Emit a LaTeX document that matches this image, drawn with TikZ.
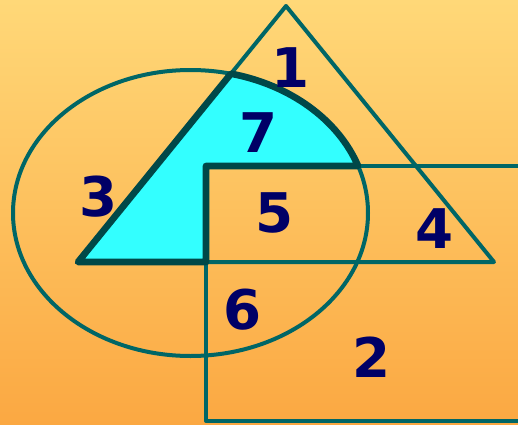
\documentclass[tikz,border=0pt]{standalone}
\usepackage{fontspec}
\newfontfamily\digitfont{DejaVu Sans}
\definecolor{bgtop}{HTML}{FFD878}
\definecolor{bgbottom}{HTML}{FBA842}
\definecolor{setline}{HTML}{006666}
\definecolor{hatchline}{HTML}{004848}
\definecolor{regionfill}{HTML}{33FFFF}
\definecolor{digitblue}{HTML}{000066}

\begin{document}
\begin{tikzpicture}[x=0.75pt,y=-0.75pt]
\tikzset{
  setedge/.style={draw=setline,line width=3pt,line join=round},
  shaded7/.style={fill=regionfill,draw=hatchline,line width=5pt,line join=round,line cap=round},
  regionlabel/.style={text=digitblue,font=\digitfont\bfseries\fontsize{41}{41}\selectfont,inner sep=0pt}
}
\useasboundingbox (0,0) rectangle (518,425);
\shade[top color=bgtop,bottom color=bgbottom] (0,0) rectangle (518,425);
\begin{scope}
\clip (0,0) rectangle (518,425);
% corners of the three sets
\coordinate (t_top) at (286,6);
\coordinate (t_left) at (78,262);
\coordinate (t_right) at (494,262);
\coordinate (r_nw) at (206,166);
\coordinate (r_se) at (530,421);
\coordinate (e_mid) at (190.5,213);
\coordinate (cut_a) at (230.96,73.7);
\coordinate (cut_b) at (206,262);
% region 7
\fill[regionfill] (t_left) -- (cut_a) arc[start angle=-76.8,end angle=-19.19,x radius=177.5,y radius=143] -- (r_nw) -- (cut_b) -- cycle;
\draw[setedge] (e_mid) ellipse[x radius=177.5,y radius=143];
\draw[setedge] (t_top) -- (t_right) -- (t_left) -- cycle;
\draw[setedge] (r_nw) rectangle (r_se);
\draw[shaded7,fill=none] (t_left) -- (cut_a) arc[start angle=-76.8,end angle=-19.19,x radius=177.5,y radius=143] -- (r_nw) -- (cut_b) -- cycle;
\end{scope}
\node[regionlabel] (n_1) at (291,68) {1};
\node[regionlabel] (n_2) at (372,357) {2};
\node[regionlabel] (n_3) at (99,197) {3};
\node[regionlabel] (n_4) at (435,229) {4};
\node[regionlabel] (n_5) at (275,213) {5};
\node[regionlabel] (n_6) at (243,310) {6};
\node[regionlabel] (n_7) at (259,133) {7};
\end{tikzpicture}
\end{document}
